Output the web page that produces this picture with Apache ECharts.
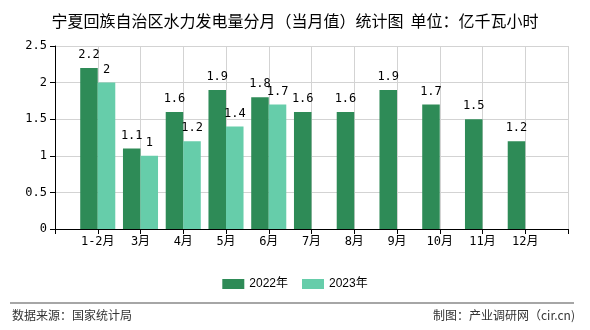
<!DOCTYPE html>
<html><head><meta charset="utf-8">
<script src="https://cdn.jsdelivr.net/npm/echarts@6/dist/echarts.min.js"></script>
<style>html,body{margin:0;padding:0;background:#fff}#c{width:590px;height:330px}</style>
</head><body><div id="c"></div>
<script>
var months = ['1-2月','3月','4月','5月','6月','7月','8月','9月','10月','11月','12月'];
var values2022 = [2.2, 1.1, 1.6, 1.9, 1.8, 1.6, 1.6, 1.9, 1.7, 1.5, 1.2];
var values2023 = [2, 1, 1.2, 1.4, 1.7];
var yTicks = [0, 0.5, 1, 1.5, 2, 2.5];
var seriesNames = ['2022年', '2023年'];
var titleText = '宁夏回族自治区水力发电量分月（当月值）统计图  单位：亿千瓦小时';
var sourceText = '数据来源：国家统计局';
var makerText = '制图：产业调研网（cir.cn)';

var cats = [''].concat(months).concat(['']);
function pad(arr){ var out=['-']; for (var i=0;i<months.length;i++){ out.push(i<arr.length?arr[i]:'-'); } out.push('-'); return out; }
var numFont = "'DejaVu Sans Mono','Noto Sans CJK SC',monospace";
var chart = echarts.init(document.getElementById('c'));
chart.setOption({
  animation:false,
  backgroundColor:'#fff',
  title:{text:titleText,left:'center',top:8,textStyle:{fontSize:16,fontWeight:'normal',color:'#000',fontFamily:"'Noto Sans CJK SC',sans-serif"}},
  grid:{left:55,right:22,top:46,bottom:101},
  legend:{data:seriesNames,left:'center',top:273,itemWidth:22,itemHeight:10,itemGap:14,icon:'rect',
    textStyle:{fontSize:12,color:'#000',fontFamily:"'Liberation Sans','Noto Sans CJK SC',sans-serif"}},
  xAxis:{type:'category',data:cats,boundaryGap:false,
    axisLine:{lineStyle:{color:'#000',width:1}},
    axisTick:{show:true,length:5,lineStyle:{color:'#000'}},
    axisLabel:{color:'#000',fontSize:12,margin:7,fontFamily:numFont,interval:0},
    splitLine:{show:true,lineStyle:{color:'#d3d3d3',width:1}}},
  yAxis:{type:'value',min:yTicks[0],max:yTicks[yTicks.length-1],interval:0.5,
    axisLine:{show:true,lineStyle:{color:'#000',width:1}},
    axisTick:{show:true,length:5,lineStyle:{color:'#000'}},
    axisLabel:{color:'#000',fontSize:12,margin:8,fontFamily:numFont},
    splitLine:{show:true,lineStyle:{color:'#d3d3d3',width:1}}},
  series:[
    {name:seriesNames[0],type:'bar',data:pad(values2022),barGap:'0%',barCategoryGap:'18%',
      itemStyle:{color:'#2e8b57'},
      label:{show:true,position:'top',color:'#000',fontSize:12,distance:7,fontFamily:numFont}},
    {name:seriesNames[1],type:'bar',data:pad(values2023),
      itemStyle:{color:'#66cdaa'},
      label:{show:true,position:'top',color:'#000',fontSize:12,distance:7,fontFamily:numFont}}
  ],
  graphic:[
    {type:'line',shape:{x1:10,y1:303,x2:574,y2:303},style:{stroke:'#888',lineWidth:1.5}},
    {type:'text',left:12,top:309,style:{text:sourceText,fontSize:12,fill:'#333',fontFamily:"'Noto Sans CJK SC',sans-serif"}},
    {type:'text',right:15,top:309,style:{text:makerText,fontSize:12,fill:'#333',fontFamily:"'Noto Sans CJK SC',sans-serif"}}
  ]
});
</script></body></html>
